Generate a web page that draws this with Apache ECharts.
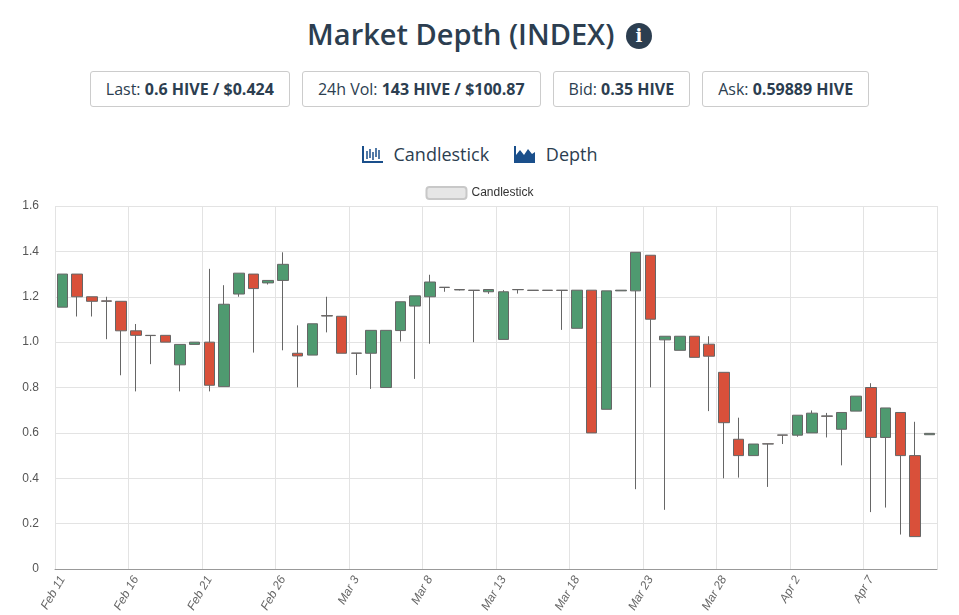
<!DOCTYPE html>
<html>
<head>
<meta charset="utf-8">
<script src="https://cdn.jsdelivr.net/npm/echarts@6/dist/echarts.min.js"></script>
<style>
body { margin: 0; width: 959px; height: 615px; overflow: hidden; background: #fff; font-family: "Open Sans", sans-serif; color: #2c3e50; }
h1 { margin: 0; position: absolute; top: 14px; left: 0; width: 959px; text-align: center; font-size: 29px; font-weight: 600; color: #2c3e50; }
.info { display: inline-block; width: 26px; height: 26px; border-radius: 13px; background: #2c3e50; color: #fff; font-size: 18px; line-height: 26px; font-family: "DejaVu Serif", serif; font-weight: bold; vertical-align: 3px; margin-left: 4px; }
.stats { position: absolute; top: 71px; left: 0; width: 959px; text-align: center; font-size: 16px; }
.stats span { display: inline-block; border: 1px solid #ccc; border-radius: 3px; padding: 6px 15px; margin: 0 6px; color: #2c3e50; }
.tabs { position: absolute; top: 142px; left: 0; width: 959px; text-align: center; font-size: 18px; }
.tabs span { margin: 0 10px; }
.ic { display: inline-block; width: 22px; height: 18px; vertical-align: -2px; margin-right: 10px; }
#history { position: absolute; top: 175px; left: 0; width: 959px; height: 440px; }
</style>
</head>
<body>
<h1>Market Depth (INDEX) <span class="info">i</span></h1>
<div class="stats">
<span>Last: <b>0.6 HIVE / $0.424</b></span><span>24h Vol: <b>143 HIVE / $100.87</b></span><span>Bid: <b>0.35 HIVE</b></span><span>Ask: <b>0.59889 HIVE</b></span>
</div>
<div class="tabs">
<span><svg class="ic" viewBox="0 0 22 18"><path d="M1 1V17H21" stroke="#1a4f8b" fill="none" stroke-width="2"/><path d="M5 6V14M8 4V13M11 7V15M14 3V12M17 5V14" stroke="#1a4f8b" stroke-width="1.5"/></svg>Candlestick</span>
<span><svg class="ic" viewBox="0 0 22 18"><path d="M1 1V17H21" stroke="#1a4f8b" fill="none" stroke-width="2"/><path d="M2 16L2 10L6 5L10 10L14 4L18 9L21 7V16Z" fill="#1a4f8b"/></svg>Depth</span>
</div>
<div id="history"></div>
<script>
var dates = [];
(function() {
    var d = new Date(2023, 1, 11);
    var m = ['Jan', 'Feb', 'Mar', 'Apr'];
    for (var i = 0; i < 60; i++) {
        dates.push(m[d.getMonth()] + ' ' + d.getDate());
        d.setDate(d.getDate() + 1);
    }
})();
// open, close, low, high
var candles = [
    [1.154, 1.30, 1.154, 1.30],
    [1.30, 1.20, 1.113, 1.30],
    [1.20, 1.18, 1.113, 1.20],
    [1.182, 1.18, 1.013, 1.20],
    [1.18, 1.05, 0.854, 1.18],
    [1.05, 1.03, 0.783, 1.08],
    [1.03, 1.029, 0.903, 1.03],
    [1.03, 1.0, 1.0, 1.03],
    [0.90, 0.99, 0.783, 0.99],
    [0.99, 1.0, 0.99, 1.0],
    [1.0, 0.81, 0.783, 1.323],
    [0.804, 1.167, 0.804, 1.251],
    [1.212, 1.304, 1.20, 1.304],
    [1.30, 1.236, 0.954, 1.30],
    [1.261, 1.272, 1.254, 1.272],
    [1.272, 1.343, 0.964, 1.396],
    [0.951, 0.939, 0.801, 1.074],
    [0.943, 1.081, 0.943, 1.081],
    [1.117, 1.115, 1.043, 1.20],
    [1.114, 0.951, 0.951, 1.114],
    [0.952, 0.951, 0.855, 0.952],
    [0.951, 1.052, 0.794, 1.052],
    [0.80, 1.052, 0.80, 1.052],
    [1.051, 1.178, 1.003, 1.178],
    [1.159, 1.204, 0.838, 1.204],
    [1.20, 1.265, 0.993, 1.297],
    [1.242, 1.241, 1.222, 1.242],
    [1.232, 1.230, 1.228, 1.232],
    [1.229, 1.228, 1.0, 1.229],
    [1.222, 1.232, 1.213, 1.232],
    [1.012, 1.222, 1.012, 1.229],
    [1.232, 1.231, 1.214, 1.232],
    [1.229, 1.228, 1.228, 1.229],
    [1.229, 1.228, 1.228, 1.229],
    [1.229, 1.228, 1.054, 1.229],
    [1.061, 1.229, 1.061, 1.229],
    [1.229, 0.60, 0.60, 1.229],
    [0.704, 1.226, 0.704, 1.226],
    [1.226, 1.229, 1.226, 1.229],
    [1.226, 1.396, 0.352, 1.396],
    [1.383, 1.101, 0.801, 1.383],
    [1.01, 1.026, 0.261, 1.026],
    [0.964, 1.026, 0.964, 1.026],
    [1.026, 0.933, 0.933, 1.026],
    [0.991, 0.938, 0.696, 1.026],
    [0.867, 0.645, 0.40, 0.867],
    [0.572, 0.50, 0.403, 0.667],
    [0.50, 0.551, 0.50, 0.551],
    [0.552, 0.551, 0.362, 0.552],
    [0.591, 0.590, 0.551, 0.591],
    [0.59, 0.678, 0.583, 0.678],
    [0.60, 0.687, 0.60, 0.699],
    [0.675, 0.673, 0.58, 0.688],
    [0.616, 0.69, 0.457, 0.69],
    [0.696, 0.762, 0.696, 0.762],
    [0.80, 0.58, 0.251, 0.819],
    [0.58, 0.71, 0.271, 0.71],
    [0.69, 0.50, 0.152, 0.69],
    [0.50, 0.143, 0.143, 0.649],
    [0.592, 0.598, 0.592, 0.598]
];

var myChart = echarts.init(document.getElementById('history'));
var option = {
    animation: false,
    textStyle: { fontFamily: 'Liberation Sans, Arial, sans-serif' },
    legend: {
        top: 6,
        data: ['Candlestick'],
        itemWidth: 40,
        itemHeight: 12,
        textStyle: { color: '#333', fontSize: 12 },
        itemStyle: { color: '#e6e6e6', borderColor: '#c8c8c8', borderWidth: 2 }
    },
    grid: { left: 55, right: 22, top: 31, bottom: 41 },
    xAxis: {
        type: 'category',
        data: dates,
        boundaryGap: true,
        axisLine: { lineStyle: { color: '#999' } },
        axisTick: { show: false },
        axisLabel: {
            interval: 4,
            rotate: 60,
            color: '#666',
            fontSize: 12,
            fontStyle: 'italic',
            margin: 8
        },
        splitLine: { show: true, interval: 4, lineStyle: { color: '#e3e3e3' } }
    },
    yAxis: {
        type: 'value',
        min: 0,
        max: 1.6,
        interval: 0.2,
        axisLine: { show: false },
        axisTick: { show: false },
        axisLabel: {
            color: '#555',
            fontSize: 12,
            margin: 16,
            formatter: function(v) { return v === 0 ? '0' : v.toFixed(1); }
        },
        splitLine: { lineStyle: { color: '#e3e3e3' } }
    },
    series: [{
        name: 'Candlestick',
        type: 'candlestick',
        barWidth: 11,
        data: candles,
        itemStyle: {
            color: '#4f9a70',
            color0: '#d9503a',
            borderColor: '#666',
            borderColor0: '#666',
            borderWidth: 1
        }
    }]
};
myChart.setOption(option);
</script>
</body>
</html>
